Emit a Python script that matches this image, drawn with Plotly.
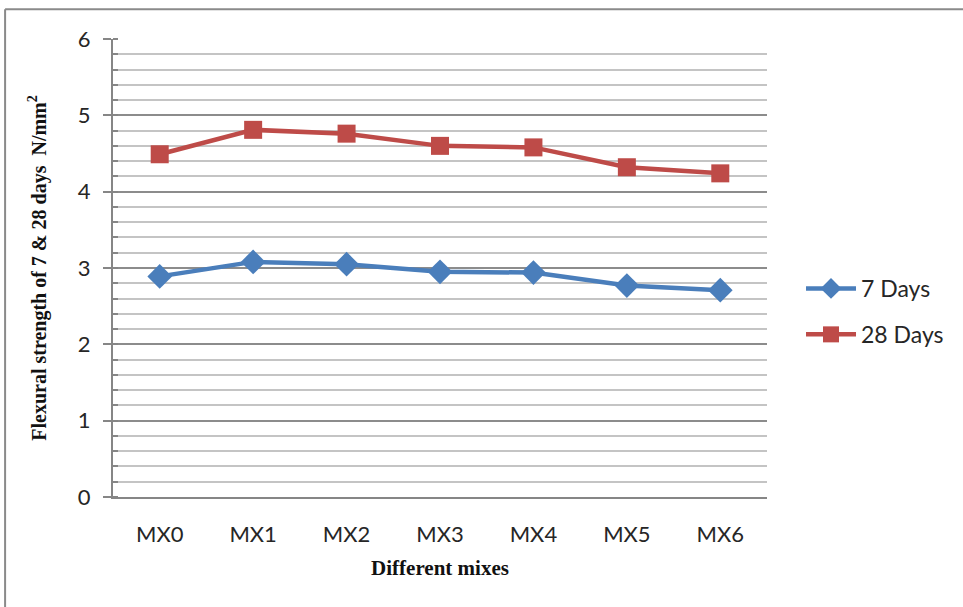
import plotly.graph_objects as go

# Flexural strength (N/mm²) of each mix at 7 and 28 days
mixes = ["MX0", "MX1", "MX2", "MX3", "MX4", "MX5", "MX6"]
days7 = [2.89, 3.08, 3.05, 2.95, 2.94, 2.77, 2.71]
days28 = [4.49, 4.81, 4.76, 4.60, 4.58, 4.32, 4.24]
y_ticks = [0, 1, 2, 3, 4, 5, 6]

BLUE = "#4a7ebb"
RED = "#be4b48"
AXIS = "#868686"
MINOR = "#c4c4c4"
TEXT = "#262626"
LABEL_FONT = "Lato, Carlito, Calibri, sans-serif"
SERIF = "Liberation Serif, Times New Roman, serif"

fig = go.Figure()
fig.add_trace(go.Scatter(
    x=mixes, y=days7, name="7 Days", mode="lines+markers", legendgroup="a",
    line=dict(color=BLUE, width=4.5),
    marker=dict(symbol="diamond", size=19, color=BLUE),
))
fig.add_trace(go.Scatter(
    x=mixes, y=days28, name="28 Days", mode="lines+markers", legendgroup="b",
    line=dict(color=RED, width=4.5),
    marker=dict(symbol="square", size=18, color=RED),
))

fig.update_layout(
    width=963, height=607,
    margin=dict(l=113, r=196, t=39, b=110),
    paper_bgcolor="white", plot_bgcolor="white",
    showlegend=True,
    legend=dict(
        x=1.052, y=0.405, xanchor="left", yanchor="middle",
        font=dict(family=LABEL_FONT, size=23, color=TEXT),
        tracegroupgap=13, itemwidth=50,
        bgcolor="rgba(0,0,0,0)",
    ),
    xaxis=dict(
        type="category", range=[-0.5, 6.5],
        showgrid=False, zeroline=False,
        showline=True, linecolor=AXIS, linewidth=2,
        ticks="", ticklabelstandoff=17,
        tickfont=dict(family=LABEL_FONT, size=22, color=TEXT),
        title=dict(text="<b>Different mixes</b>", standoff=14,
                   font=dict(family=SERIF, size=21, color="#111111")),
    ),
    yaxis=dict(
        range=[0, 6], tickvals=y_ticks,
        showgrid=True, gridcolor="#8c8c8c", gridwidth=2,
        zeroline=False,
        showline=True, linecolor=AXIS, linewidth=2,
        ticks="outside", ticklen=8, tickcolor=AXIS, tickwidth=2,
        ticklabelstandoff=8,
        tickfont=dict(family=LABEL_FONT, size=22, color=TEXT),
        minor=dict(dtick=0.2, showgrid=True, gridcolor=MINOR, gridwidth=2,
                   ticks="inside", ticklen=5, tickcolor=AXIS, tickwidth=1.5),
        title=dict(text="<b>Flexural strength of 7 &amp; 28 days  N/mm<sup>2</sup></b>",
                   standoff=26,
                   font=dict(family=SERIF, size=20, color="#111111")),
    ),
)

# Chart frame (top and left edges)
fig.add_shape(type="line", xref="paper", yref="paper",
              x0=-0.165, x1=1.32, y0=1.065, y1=1.065,
              line=dict(color="#8a8a8a", width=2))
fig.add_shape(type="line", xref="paper", yref="paper",
              x0=-0.165, x1=-0.165, y0=1.065, y1=-0.25,
              line=dict(color="#8a8a8a", width=2))

fig.write_html("out.html")
